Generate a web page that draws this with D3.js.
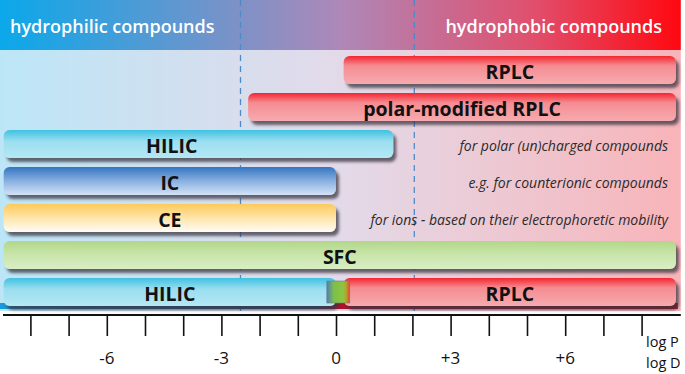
<!DOCTYPE html>
<html>
<head>
<meta charset="utf-8">
<script src="https://cdn.jsdelivr.net/npm/d3@7"></script>
<style>
  body { margin: 0; background: #fff; }
  svg { display: block; font-family: "Open Sans", Lato, sans-serif; }
</style>
</head>
<body>
<svg id="chart" width="685" height="374"></svg>
<script>
// Data
var methods   = ["RPLC", "polar-modified RPLC", "HILIC", "IC", "CE", "SFC", "HILIC", "RPLC"];
var rows      = [0, 1, 2, 3, 4, 5, 6, 6];
var starts    = [0.2, -2.3, -8.7, -8.7, -8.7, -8.7, -8.7, 0.2];
var ends      = [8.9, 8.9, 1.5, 0, 0, 8.9, 0, 8.9];
var colours   = ["red", "red", "cyan", "blue", "yellow", "green", "cyan", "red"];
var labelAt   = [null, null, -4.3, null, null, null, null, null];
var notes     = ["for polar (un)charged compounds", "e.g. for counterionic compounds", "for ions - based on their electrophoretic mobility"];
var noteRows  = [2, 3, 4];
var tickVals  = d3.range(-8, 9);
var labelVals = [-6, -3, 0, 3, 6];
var dashVals  = [-2.5, 2.05];
var sides     = ["hydrophilic compounds", "hydrophobic compounds"];

var svg = d3.select("#chart");
var width = 685, height = 374;

const x = d3.scaleLinear().domain([-8, 8]).range([30.4, 641.6]);
const y = d3.scaleLinear().domain([0, 6]).range([56, 278]);
const barH = 28;
const headH = 50, axisY = 315;

// gradients
var defs = svg.append("defs");
var grads = {
  red:    [["0", "#f42630"], ["0.35", "#f58c92"], ["1", "#f6abaf"]],
  cyan:   [["0", "#3fc2e1"], ["0.4", "#9bdef0"], ["1", "#b4e8f4"]],
  blue:   [["0", "#3575c0"], ["0.5", "#88b0e0"], ["1", "#d4e2f6"]],
  yellow: [["0", "#fdca5a"], ["0.5", "#fee5ab"], ["1", "#fffcf6"]],
  green:  [["0", "#b2d788"], ["0.5", "#cae5ac"], ["1", "#d8eec4"]]
};
Object.keys(grads).forEach(function(k) {
  var lg = defs.append("linearGradient").attr("id", "g-" + k)
    .attr("x1", 0).attr("y1", 0).attr("x2", 0).attr("y2", 1);
  grads[k].forEach(function(s) { lg.append("stop").attr("offset", s[0]).attr("stop-color", s[1]); });
});
function hgrad(id, stops) {
  var lg = defs.append("linearGradient").attr("id", id)
    .attr("x1", 0).attr("y1", 0).attr("x2", 1).attr("y2", 0);
  stops.forEach(function(s) { lg.append("stop").attr("offset", s[0]).attr("stop-color", s[1]); });
}
hgrad("head", [["0", "#0aa8ea"], ["0.5", "#ae88b8"], ["0.78", "#e0506e"], ["1", "#ff0810"]]);
hgrad("back", [["0", "#bce6f7"], ["0.5", "#e3dae9"], ["1", "#f8b4b9"]]);
hgrad("strip", [["0", "#1a9be0"], ["0.12", "#1f6fa8"], ["0.47", "#2a4f78"], ["0.5", "#b0102a"], ["1", "#a80c18"]]);
hgrad("mix", [["0", "#4d7fb5"], ["0.3", "#7dbf4a"], ["0.7", "#8cc63f"], ["0.85", "#b8a030"], ["1", "#e2452a"]]);

var f = defs.append("filter").attr("id", "shadow")
  .attr("x", "-5%").attr("y", "-30%").attr("width", "115%").attr("height", "190%");
f.append("feDropShadow").attr("dx", 3).attr("dy", 4).attr("stdDeviation", 1.8)
  .attr("flood-color", "#3a3440").attr("flood-opacity", 0.75);

// background + header
var left = x(-8.85), right = x(9.0);
svg.append("rect").attr("x", 0).attr("y", headH).attr("width", right + 1).attr("height", axisY - headH - 4)
  .attr("fill", "url(#back)");
svg.append("rect").attr("x", 0).attr("y", 0).attr("width", right + 1).attr("height", headH)
  .attr("fill", "url(#head)");

svg.selectAll(".side").data(sides).join("text")
  .attr("class", "side")
  .attr("x", (d, i) => i === 0 ? 10 : 662)
  .attr("y", 26)
  .attr("text-anchor", (d, i) => i === 0 ? "start" : "end")
  .attr("dominant-baseline", "central")
  .attr("fill", "#fff")
  .attr("font-weight", 600)
  .attr("font-size", 18)
  .text(d => d);

// dashed guide lines
svg.selectAll(".guide").data(dashVals).join("line")
  .attr("class", "guide")
  .attr("x1", d => x(d)).attr("x2", d => x(d))
  .attr("y1", 0).attr("y2", axisY - 4)
  .attr("stroke", "#4f8ac8").attr("stroke-width", 1.3)
  .attr("stroke-dasharray", "6,5");

// bottom strip under last row
svg.append("rect")
  .attr("x", left).attr("y", y(6) + barH - 3)
  .attr("width", right - left - 2).attr("height", 6)
  .attr("fill", "url(#strip)");

// bars
var bars = methods.map(function(m, i) {
  return {name: m, row: rows[i], s: starts[i], e: ends[i], c: colours[i], lx: labelAt[i]};
});

svg.selectAll(".bar").data(bars).join("rect")
  .attr("class", "bar")
  .attr("x", d => x(d.s))
  .attr("y", d => y(d.row))
  .attr("width", d => x(d.e) - x(d.s))
  .attr("height", barH)
  .attr("rx", 6)
  .attr("fill", d => "url(#g-" + d.c + ")")
  .attr("filter", "url(#shadow)");

// transition square between HILIC and RPLC
svg.append("rect")
  .attr("x", x(-0.24)).attr("y", y(6) + 3)
  .attr("width", x(0.36) - x(-0.24)).attr("height", barH - 6)
  .attr("fill", "url(#mix)")
  .attr("stroke", "#6a7890").attr("stroke-width", 0.6);

svg.selectAll(".blabel").data(bars).join("text")
  .attr("class", "blabel")
  .attr("x", d => d.lx === null ? (x(d.s) + x(d.e)) / 2 : x(d.lx))
  .attr("y", d => y(d.row) + barH / 2 + 1)
  .attr("text-anchor", "middle")
  .attr("dominant-baseline", "central")
  .attr("font-weight", 700)
  .attr("font-size", 19.5)
  .attr("fill", "#111")
  .text(d => d.name);

svg.selectAll(".note").data(notes).join("text")
  .attr("class", "note")
  .attr("x", 668)
  .attr("y", (d, i) => y(noteRows[i]) + barH / 2 + 1)
  .attr("text-anchor", "end")
  .attr("dominant-baseline", "central")
  .attr("font-style", "italic")
  .attr("font-size", 14)
  .attr("fill", "#2a2a2a")
  .text(d => d);

// axis
svg.append("line")
  .attr("x1", 3).attr("x2", right + 1)
  .attr("y1", axisY).attr("y2", axisY)
  .attr("stroke", "#111").attr("stroke-width", 2);

const xaxis = d3.axisBottom(x).tickValues(tickVals).tickSize(20).tickFormat("");
const ax = svg.append("g").attr("transform", `translate(0,${axisY + 1})`).call(xaxis);
ax.select(".domain").remove();
ax.selectAll(".tick line").attr("stroke", "#111").attr("stroke-width", 1.6);

svg.selectAll(".tlabel").data(labelVals).join("text")
  .attr("class", "tlabel")
  .attr("x", d => x(d))
  .attr("y", 357)
  .attr("text-anchor", "middle")
  .attr("dominant-baseline", "central")
  .attr("font-size", 17)
  .attr("fill", "#111")
  .text(d => d > 0 ? "+" + d : String(d));

svg.selectAll(".unit").data(["log P", "log D"]).join("text")
  .attr("class", "unit")
  .attr("x", 646)
  .attr("y", (d, i) => 341 + i * 21)
  .attr("dominant-baseline", "central")
  .attr("font-size", 14.5)
  .attr("fill", "#111")
  .text(d => d);
</script>
</body>
</html>
